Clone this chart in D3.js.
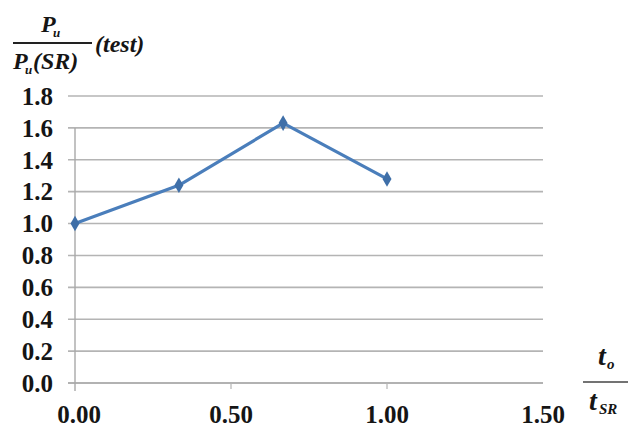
<!DOCTYPE html>
<html>
<head>
<meta charset="utf-8">
<script src="https://cdn.jsdelivr.net/npm/d3@7"></script>
<style>
body { margin: 0; background: #fff; }
</style>
</head>
<body>
<div id="chart"></div>
<script>
// t_o / t_SR ratio and Pu / Pu(SR) ratio
var ratio = [0, 0.333, 0.667, 1.0]
var strength = [1.0, 1.24, 1.63, 1.28]

var yTicks = [0, 0.2, 0.4, 0.6, 0.8, 1.0, 1.2, 1.4, 1.6, 1.8]
var xTicks = [0, 0.5, 1.0, 1.5]

var data = ratio.map(function(d, i) { return {x: d, y: strength[i]} })

var margin = {left: 75, right: 92, top: 96, bottom: 44}
var totalW = 635, totalH = 427
var width = totalW - margin.left - margin.right
var height = totalH - margin.top - margin.bottom
var serif = 'Liberation Serif'

var svg = d3.select('#chart').append('svg')
  .attr('width', totalW)
  .attr('height', totalH)

var g = svg.append('g').attr('transform', 'translate(' + margin.left + ',' + margin.top + ')')

var x = d3.scaleLinear().domain([0, 1.5]).range([0, width])
var y = d3.scaleLinear().domain([0, 1.8]).range([height, 0])

// horizontal grid lines (with small outside ticks)
g.selectAll('line.grid')
  .data(yTicks)
  .enter().append('line')
  .attr('class', 'grid')
  .attr('x1', -7)
  .attr('x2', x(1.5))
  .attr('y1', function(d) { return y(d) })
  .attr('y2', function(d) { return y(d) })
  .style('stroke', function(d) { return d == 0 ? '#999' : '#b4b4b4' })
  .style('stroke-width', 1.6)

// vertical axis line
g.append('line')
  .attr('x1', x(0)).attr('x2', x(0))
  .attr('y1', y(1.6)).attr('y2', y(0) + 8)
  .style('stroke', '#a8a8a8')
  .style('stroke-width', 1.4)

// x ticks
g.selectAll('line.xtick')
  .data(xTicks.slice(1, 3))
  .enter().append('line')
  .attr('class', 'xtick')
  .attr('x1', function(d) { return x(d) })
  .attr('x2', function(d) { return x(d) })
  .attr('y1', y(0))
  .attr('y2', y(0) + 6)
  .style('stroke', '#b4b4b4')
  .style('stroke-width', 1.2)

// helper so every text carries its own font settings
function label(parent, size, italic) {
  return parent.append('text')
    .attr('font-family', serif)
    .attr('font-weight', 'bold')
    .attr('font-style', italic ? 'italic' : 'normal')
    .attr('font-size', size)
    .attr('fill', '#151515')
}

// y tick labels
yTicks.forEach(function(d) {
  label(g, 25, false)
    .attr('x', -22)
    .attr('y', y(d))
    .attr('dy', '0.35em')
    .attr('text-anchor', 'end')
    .text(d3.format('.1f')(d))
})

// x tick labels
xTicks.forEach(function(d, i) {
  label(g, 25, false)
    .attr('x', x(d) + (i == 0 ? 4 : 0))
    .attr('y', height + 40)
    .attr('text-anchor', 'middle')
    .text(d3.format('.2f')(d))
})

// data line
var line = d3.line().x(function(d) { return x(d.x) }).y(function(d) { return y(d.y) })

g.append('path')
  .datum(data)
  .attr('d', line)
  .style('fill', 'none')
  .style('stroke', '#4a7ebb')
  .style('stroke-width', 3.2)
  .style('stroke-linejoin', 'round')

g.selectAll('path.marker')
  .data(data)
  .enter().append('path')
  .attr('class', 'marker')
  .attr('transform', function(d) { return 'translate(' + x(d.x) + ',' + y(d.y) + ')' })
  .attr('d', d3.symbol().type(d3.symbolDiamond).size(70))
  .style('fill', '#3f6fa8')

// y axis title: Pu / Pu(SR) (test)
label(svg, 24, true).attr('x', 41).attr('y', 32).text('P')
label(svg, 13, true).attr('x', 53).attr('y', 37).text('u')
svg.append('line')
  .attr('x1', 13).attr('x2', 92).attr('y1', 43).attr('y2', 43)
  .style('stroke', '#222').style('stroke-width', 1.8)
label(svg, 24, true).attr('x', 13).attr('y', 69).text('P')
label(svg, 13, true).attr('x', 25).attr('y', 74).text('u')
label(svg, 24, true).attr('x', 33).attr('y', 69).text('(SR)')
label(svg, 24, true).attr('x', 95).attr('y', 52).text('(test)')

// x axis title: to / tSR
label(svg, 28, true).attr('x', 598).attr('y', 365).text('t')
label(svg, 15, true).attr('x', 607).attr('y', 369).text('o')
svg.append('line')
  .attr('x1', 583).attr('x2', 628).attr('y1', 382).attr('y2', 382)
  .style('stroke', '#444').style('stroke-width', 1.4)
label(svg, 28, true).attr('x', 589).attr('y', 410).text('t')
label(svg, 15, true).attr('x', 599).attr('y', 414).text('SR')
</script>
</body>
</html>
